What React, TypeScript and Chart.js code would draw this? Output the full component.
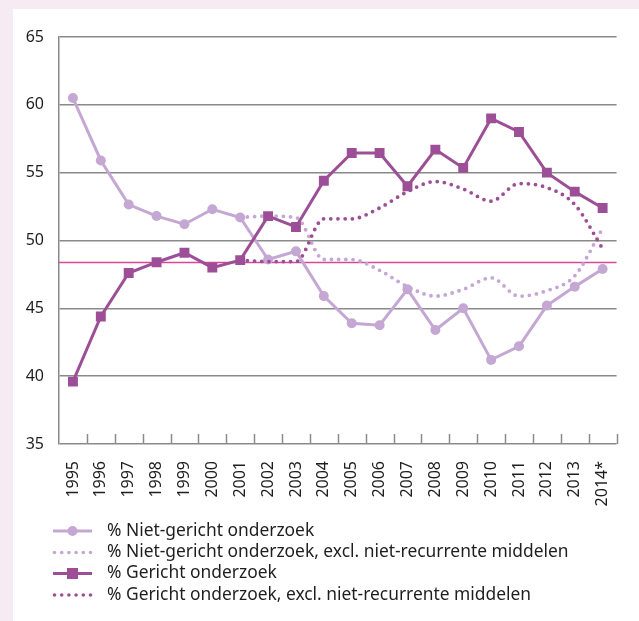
import React, { useEffect, useRef } from "react";
import { Chart, registerables } from "chart.js";

Chart.register(...registerables);

const years = ["1995", "1996", "1997", "1998", "1999", "2000", "2001", "2002", "2003", "2004", "2005", "2006", "2007", "2008", "2009", "2010", "2011", "2012", "2013", "2014*"];
const nietGericht = [60.5, 55.9, 52.65, 51.8, 51.2, 52.3, 51.7, 48.6, 49.2, 45.9, 43.9, 43.75, 46.4, 43.4, 45.0, 41.2, 42.2, 45.2, 46.6, 47.9];
const nietGerichtExcl = [null, null, null, null, null, null, 51.7, 51.8, 51.7, 48.6, 48.6, 47.8, 46.6, 45.9, 46.4, 47.25, 45.9, 46.3, 47.4, 50.9];
const gericht = [39.6, 44.4, 47.6, 48.4, 49.1, 48.0, 48.55, 51.8, 51.0, 54.4, 56.45, 56.45, 54.0, 56.7, 55.35, 59.0, 58.0, 55.0, 53.6, 52.4];
const gerichtExcl = [null, null, null, null, null, null, 48.55, 48.45, 48.45, 51.6, 51.6, 52.4, 53.6, 54.35, 53.8, 52.9, 54.2, 53.9, 52.65, 49.4];
const referenceLine = 48.37;
const yMin = 35;
const yMax = 65;
const yStep = 5;

const legendLabels = [
  "% Niet-gericht onderzoek",
  "% Niet-gericht onderzoek, excl. niet-recurrente middelen",
  "% Gericht onderzoek",
  "% Gericht onderzoek, excl. niet-recurrente middelen",
];

const LIGHT = "#c4a7d2";
const DARK = "#9c4f96";
const PINK = "#d9479b";
const GRID = "#8a8a8a";
const TEXT = "#1e1e1e";
const FONT = "'Noto Sans', sans-serif";

const extrasPlugin = {
  id: "extras",
  beforeDatasetsDraw(chart: any) {
    const { ctx, chartArea } = chart;
    const y = chart.scales.y;
    const py = y.getPixelForValue(referenceLine);
    ctx.save();
    ctx.strokeStyle = PINK;
    ctx.lineWidth = 1.5;
    ctx.beginPath();
    ctx.moveTo(chartArea.left, py);
    ctx.lineTo(chartArea.right, py);
    ctx.stroke();
    const x = chart.scales.x;
    const half = (x.getPixelForValue(1) - x.getPixelForValue(0)) / 2;
    ctx.strokeStyle = GRID;
    ctx.lineWidth = 1.5;
    for (let i = 0; i < years.length; i++) {
      const px = Math.round(x.getPixelForValue(i) + half) + 0.5;
      ctx.beginPath();
      ctx.moveTo(px, chartArea.bottom);
      ctx.lineTo(px, chartArea.bottom - 10);
      ctx.stroke();
    }
    ctx.restore();
  },
  afterDraw(chart: any) {
    const { ctx } = chart;
    const rows = [522, 543.5, 564.5, 586];
    const x0 = 40;
    const x1 = 79;
    const tx = 94;
    ctx.save();
    rows.forEach((ry, i) => {
      const color = i < 2 ? LIGHT : DARK;
      const dotted = i % 2 === 1;
      ctx.strokeStyle = color;
      ctx.fillStyle = color;
      if (dotted) {
        for (let k = 0; k < 6; k++) {
          ctx.beginPath();
          ctx.arc(x0 + 1.5 + k * 7.2, ry, 1.8, 0, Math.PI * 2);
          ctx.fill();
        }
      } else {
        ctx.lineWidth = 3;
        ctx.beginPath();
        ctx.moveTo(x0, ry);
        ctx.lineTo(x1, ry);
        ctx.stroke();
        const cx = (x0 + x1) / 2;
        if (i === 0) {
          ctx.beginPath();
          ctx.arc(cx, ry, 5, 0, Math.PI * 2);
          ctx.fill();
        } else {
          ctx.fillRect(cx - 5.5, ry - 5.5, 11, 11);
        }
      }
      ctx.fillStyle = TEXT;
      ctx.font = `17.4px ${FONT}`;
      ctx.textBaseline = "middle";
      ctx.textAlign = "left";
      ctx.fillText(legendLabels[i], tx, ry);
    });
    ctx.restore();
  },
};

export default function App() {
  const ref = useRef<HTMLCanvasElement | null>(null);
  useEffect(() => {
    if (!ref.current) return;
    const chart = new Chart(ref.current, {
      type: "line",
      data: {
        labels: years,
        datasets: [
          {
            label: legendLabels[2],
            data: gericht,
            borderColor: DARK,
            backgroundColor: DARK,
            borderWidth: 3,
            pointStyle: "rect",
            pointRadius: 7,
            pointBorderWidth: 0,
            tension: 0,
            order: 0,
          },
          {
            label: legendLabels[3],
            data: gerichtExcl,
            borderColor: DARK,
            backgroundColor: DARK,
            borderWidth: 3.8,
            borderDash: [0, 7.2],
            borderCapStyle: "round",
            pointRadius: 0,
            cubicInterpolationMode: "monotone",
            spanGaps: false,
            order: 1,
          },
          {
            label: legendLabels[0],
            data: nietGericht,
            borderColor: LIGHT,
            backgroundColor: LIGHT,
            borderWidth: 3,
            pointStyle: "circle",
            pointRadius: 5,
            pointBorderWidth: 0,
            tension: 0,
            order: 2,
          },
          {
            label: legendLabels[1],
            data: nietGerichtExcl,
            borderColor: LIGHT,
            backgroundColor: LIGHT,
            borderWidth: 3.8,
            borderDash: [0, 7.2],
            borderCapStyle: "round",
            pointRadius: 0,
            cubicInterpolationMode: "monotone",
            spanGaps: false,
            order: 3,
          },
        ] as any,
      },
      options: {
        animation: false,
        responsive: false,
        devicePixelRatio: 1,
        layout: { padding: { top: 28, right: 6, bottom: 0, left: 0 } },
        plugins: { legend: { display: false }, tooltip: { enabled: false } },
        scales: {
          x: {
            offset: true,
            grid: { display: false, drawTicks: false },
            border: { display: false },
            ticks: {
              autoSkip: false,
              minRotation: 90,
              maxRotation: 90,
              padding: 17,
              color: TEXT,
              font: { family: FONT, size: 16 },
            },
            afterFit: (s: any) => {
              s.height = 177;
            },
          },
          y: {
            min: yMin,
            max: yMax,
            grid: { color: GRID, lineWidth: 1.5, drawTicks: false },
            border: { display: true, color: GRID, width: 1.5 },
            ticks: {
              stepSize: yStep,
              padding: 15,
              color: TEXT,
              font: { family: FONT, size: 16 },
            },
            afterFit: (s: any) => {
              s.width = 46;
            },
          },
        },
      },
      plugins: [extrasPlugin],
    });
    return () => chart.destroy();
  }, []);
  return (
    <div style={{ position: "fixed", left: 0, top: 0, width: 639, height: 621, background: "#f6eaf3" }}>
      <canvas
        ref={ref}
        width={626}
        height={612}
        style={{ position: "absolute", left: 13, top: 9, width: 626, height: 612, background: "#ffffff" }}
      />
    </div>
  );
}
